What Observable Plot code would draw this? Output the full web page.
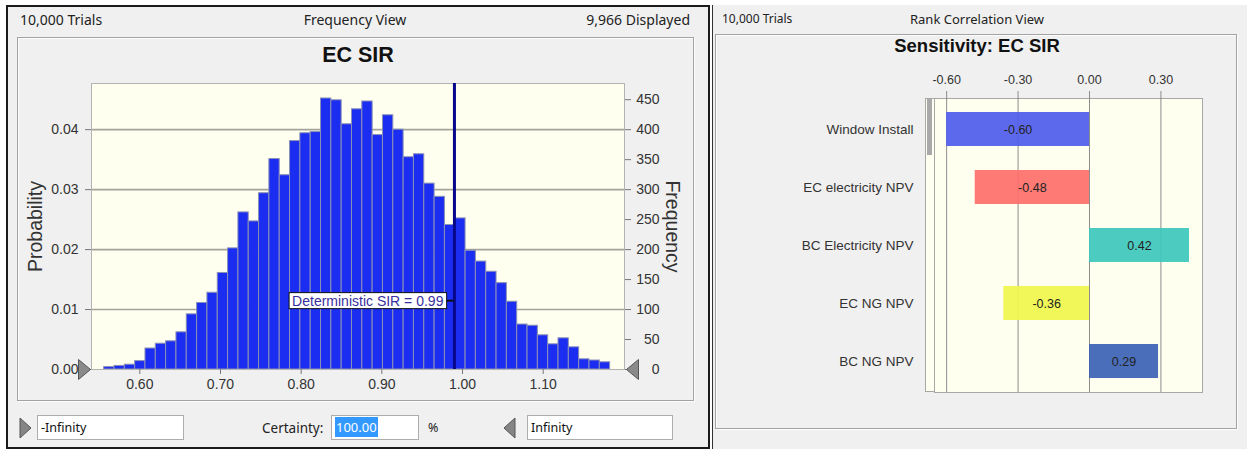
<!DOCTYPE html>
<html>
<head>
<meta charset="utf-8">
<script src="https://cdn.jsdelivr.net/npm/d3@7"></script>
<script src="https://cdn.jsdelivr.net/npm/@observablehq/plot@0.6"></script>
<style>
  html, body { margin: 0; padding: 0; background: #fff; }
  body { width: 1247px; height: 449px; position: relative; overflow: hidden;
         font-family: "Noto Sans", "Open Sans", sans-serif; }
  .panel { position: absolute; background: #f0f0f0; box-sizing: border-box; }
  .ui { position: absolute; font-size: 14px; color: #222; line-height: 16px; white-space: nowrap; }
  .group { position: absolute; border: 1px solid #a3a3a3; box-sizing: border-box;
           box-shadow: inset 1px 1px 0 #fcfcfc, 1px 1px 0 #fcfcfc; }
  .field { position: absolute; background: #fff; border: 1px solid #adadad; box-sizing: border-box;
           font-size: 12.5px; line-height: 23px; padding-left: 3px; color: #111; white-space: nowrap; }
  .sel { background: #3399ff; color: #fff; padding: 1px 1px; }
  .chart { position: absolute; }
  .title { position: absolute; font-family: "Liberation Sans", Arial, sans-serif; font-weight: bold;
           color: #111; white-space: nowrap; transform: translateX(-50%); }
</style>
</head>
<body>

<!-- Frequency view window -->
<div class="panel" style="left:6px; top:5px; width:704px; height:444px; border:2px solid #1b1b1b;"></div>
<div class="ui" style="left:20px; top:12px;">10,000 Trials</div>
<div class="ui" style="left:355px; top:12px; transform:translateX(-50%);">Frequency View</div>
<div class="ui" style="right:557px; top:12px;">9,966 Displayed</div>
<div class="group" style="left:17px; top:37px; width:677px; height:364px;"></div>
<div id="hist" class="chart" style="left:18px; top:40px;"></div>

<svg class="chart" style="left:19px; top:417px;" width="14" height="22">
  <polygon points="1,1 12,11 1,21" fill="#858585" stroke="#555" stroke-width="1"/>
</svg>
<div class="field" style="left:37px; top:415px; width:147px; height:25px;">-Infinity</div>
<div class="ui" style="left:262px; top:420px; font-size:13.5px;">Certainty:</div>
<div class="field" style="left:331px; top:415px; width:88px; height:25px; font-size:13px;"><span class="sel">100.00</span></div>
<div class="ui" style="left:428px; top:420px; font-size:12.5px;">%</div>
<svg class="chart" style="left:502px; top:417px;" width="14" height="22">
  <polygon points="13,1 2,11 13,21" fill="#858585" stroke="#555" stroke-width="1"/>
</svg>
<div class="field" style="left:527px; top:415px; width:146px; height:25px;">Infinity</div>

<!-- Rank correlation window -->
<div class="panel" style="left:712px; top:5px; width:535px; height:444px; border-left:1px solid #333;"></div>
<div class="ui" style="left:722px; top:11px; font-size:12px;">10,000 Trials</div>
<div class="ui" style="left:977px; top:11px; font-size:13px; transform:translateX(-50%);">Rank Correlation View</div>
<div class="group" style="left:715px; top:34px; width:522px; height:395px;"></div>
<div class="title" style="left:977px; top:35px; font-size:18.5px;">Sensitivity: EC SIR</div>
<div style="position:absolute; left:925px; top:98px; width:10px; height:294px; background:#fffff0; border:1px solid #a8a8a8; border-right:none; box-sizing:border-box;"></div>
<div style="position:absolute; left:927px; top:99px; width:5px; height:56px; background:#a9a9a9;"></div>
<div id="sens" class="chart" style="left:715px; top:60px;"></div>

<script>
// ---------- Forecast histogram: EC SIR ----------
const trials = 10000;
const binStart = 0.5558;   // lower edge of the first bin
const binWidth = 0.0128;   // bin width
const binCounts = [
  4, 6, 8, 14, 35, 43, 47, 62, 92, 111,
  128, 161, 202, 262, 247, 294, 351, 324, 381, 394,
  396, 452, 449, 409, 434, 447, 391, 424, 400, 354,
  359, 310, 288, 241, 252, 198, 180, 163, 144, 113,
  75, 73, 57, 42, 52, 37, 17, 15, 12
];
const xTicks = [0.60, 0.70, 0.80, 0.90, 1.00, 1.10];
const probabilityTicks = [0.00, 0.01, 0.02, 0.03, 0.04];
const frequencyTicks = [0, 50, 100, 150, 200, 250, 300, 350, 400, 450];
const deterministicSIR = 0.99;
const deterministicLabelCount = 114;   // height of the annotation box, in trials

const bins = binCounts.map((count, i) => ({
  x1: binStart + i * binWidth,
  x2: binStart + (i + 1) * binWidth,
  count
}));

const xDomain = [0.5401, 1.2008];

// grabber triangles at the ends of the value axis
const grabRight = { draw(ctx) { ctx.moveTo(-12, -10); ctx.lineTo(0, 0); ctx.lineTo(-12, 10); ctx.closePath(); } };
const grabLeft  = { draw(ctx) { ctx.moveTo(12, -10); ctx.lineTo(0, 0); ctx.lineTo(12, 10); ctx.closePath(); } };

const hist = Plot.plot({
  width: 674,
  height: 360,
  marginLeft: 73,
  marginRight: 68,
  marginTop: 43,
  marginBottom: 31,
  x: { domain: xDomain },
  y: { domain: [0, 477] },
  style: { fontFamily: "'Liberation Sans', Arial, sans-serif", fontSize: "14px", color: "#333", background: "transparent", overflow: "visible" },
  marks: [
    Plot.frame({ fill: "#fffff0" }),
    Plot.gridY(probabilityTicks.slice(1).map(p => p * trials), { stroke: "#a4a39b", strokeOpacity: 1, strokeWidth: 1.6 }),
    Plot.rectY(bins, { x1: "x1", x2: "x2", y: "count", fill: "#1b2df0", stroke: "#8b90b6", strokeWidth: 1 }),
    Plot.frame({ stroke: "#b3b3b3" }),
    Plot.ruleX([deterministicSIR], { stroke: "#07078c", strokeWidth: 3 }),
    Plot.text([`Deterministic SIR = ${deterministicSIR.toFixed(2)}`], {
      x: deterministicSIR, y: deterministicLabelCount, text: d => d,
      textAnchor: "end", dx: -11, fill: "#3a2f9c", fontSize: 14
    }),
    Plot.axisX(xTicks, { tickFormat: d => d.toFixed(2), tickSize: 5, tickPadding: 5, stroke: "#777", label: null }),
    Plot.axisY(probabilityTicks.map(p => p * trials), {
      anchor: "left", tickFormat: d => (d / trials).toFixed(2), tickSize: 6, tickPadding: 7, stroke: "#777", label: null
    }),
    Plot.axisY(frequencyTicks, { anchor: "right", tickSize: 6, tickPadding: 29, textAnchor: "end", stroke: "#777", label: null }),
    Plot.dot([0], { x: () => xDomain[0], y: 0, symbol: grabRight, dx: -1, fill: "#8a8a8a", stroke: "#555", strokeWidth: 1 }),
    Plot.dot([0], { x: () => xDomain[1], y: 0, symbol: grabLeft, dx: 2, fill: "#8a8a8a", stroke: "#555", strokeWidth: 1 }),
    Plot.text(["EC SIR"], { frameAnchor: "top", lineAnchor: "middle", text: d => d, dy: -28, fontSize: 21.5, fontWeight: "bold", fill: "#111" }),
    Plot.text(["Probability"], { frameAnchor: "left", textAnchor: "middle", text: d => d, rotate: -90, dx: -56, fontSize: 19.5, fill: "#333" }),
    Plot.text(["Frequency"], { frameAnchor: "right", textAnchor: "middle", text: d => d, rotate: 90, dx: 48, fontSize: 19.5, fill: "#333" })
  ]
});
document.getElementById("hist").append(hist);

// boxed annotation with a short leader to the deterministic line
{
  const label = [...hist.querySelectorAll("text")].find(t => t.textContent.startsWith("Deterministic"));
  if (label) {
    const bb = label.getBBox();
    const ns = "http://www.w3.org/2000/svg";
    const rect = document.createElementNS(ns, "rect");
    rect.setAttribute("x", bb.x - 3);
    rect.setAttribute("y", bb.y);
    rect.setAttribute("width", bb.width + 6);
    rect.setAttribute("height", bb.height);
    rect.setAttribute("fill", "#fff");
    rect.setAttribute("stroke", "#111");
    rect.setAttribute("stroke-width", 1);
    const tr = label.getAttribute("transform");
    if (tr) rect.setAttribute("transform", tr);
    label.parentNode.insertBefore(rect, label);
    const lead = document.createElementNS(ns, "line");
    const xr = bb.x + bb.width + 3;
    const ym = bb.y + bb.height / 2;
    lead.setAttribute("x1", xr);
    lead.setAttribute("x2", xr + 7);
    lead.setAttribute("y1", ym);
    lead.setAttribute("y2", ym);
    lead.setAttribute("stroke", "#111");
    lead.setAttribute("stroke-width", 2);
    if (tr) lead.setAttribute("transform", tr);
    label.parentNode.insertBefore(lead, label);
  }
}

// ---------- Sensitivity chart: rank correlations ----------
const factors = ["Window Install", "EC electricity NPV", "BC Electricity NPV", "EC NG NPV", "BC NG NPV"];
const correlations = [-0.60, -0.48, 0.42, -0.36, 0.29];
const factorColors = ["#4f5cec", "#fd6f6a", "#3dc8bd", "#f1f64c", "#3b62b4"];
const correlationTicks = [-0.60, -0.30, 0.00, 0.30];

const rows = factors.map((name, i) => ({ name, value: correlations[i] }));

const sens = Plot.plot({
  width: 520,
  height: 340,
  marginLeft: 219,
  marginRight: 33,
  marginTop: 38,
  marginBottom: 8,
  x: { domain: [-0.651, 0.4746] },
  y: { domain: factors, paddingInner: 0.42, paddingOuter: 0.21 },
  color: { domain: factors, range: factorColors },
  style: { fontFamily: "'Liberation Sans', Arial, sans-serif", fontSize: "12.5px", color: "#333", background: "transparent", overflow: "visible" },
  marks: [
    Plot.frame({ fill: "#fffff0", stroke: "#a8a8a8" }),
    Plot.gridX(correlationTicks, { stroke: "#8c8c8c", strokeOpacity: 1 }),
    Plot.barX(rows, { x: "value", y: "name", fill: "name", fillOpacity: 0.92 }),
    Plot.text(rows, { x: d => d.value / 2, y: "name", text: d => d.value.toFixed(2), fill: "#222" }),
    Plot.axisX(correlationTicks, { anchor: "top", tickSize: 8, tickPadding: 7, tickFormat: d => d.toFixed(2), stroke: "#8c8c8c", label: null }),
    Plot.axisY({ anchor: "left", tickSize: 0, tickPadding: 21, fontSize: 13.5, label: null })
  ]
});
document.getElementById("sens").append(sens);
</script>
</body>
</html>
